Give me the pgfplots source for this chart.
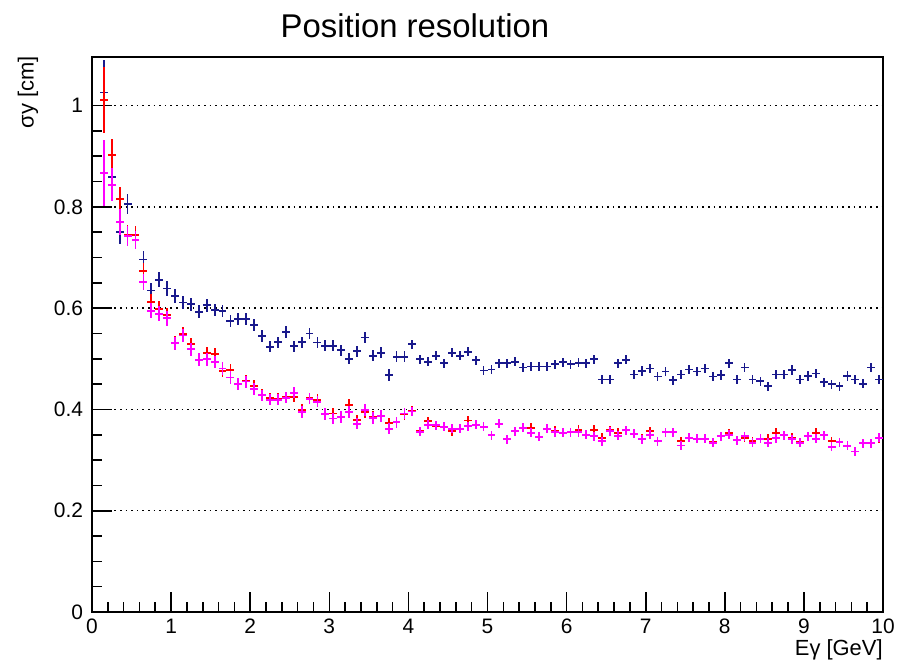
\documentclass[border=0pt]{standalone}
\usepackage{fontspec}
\setmainfont{Liberation Sans}
\usepackage{pgfplots}
\usepackage{pgfplotstable}
\pgfplotsset{compat=1.18}

\definecolor{rootnavy}{RGB}{25,25,140}
\definecolor{rootred}{RGB}{255,0,0}
\definecolor{rootmag}{RGB}{255,0,255}

% x = bin centre, b/r/m = the three resolutions, e = stat. error
\pgfplotstableread{
x    b     r     m     e
0.15 1.026 1.011 0.867 0.065
0.25 0.859 0.903 0.844 0.032
0.35 0.751 0.815 0.770 0.025
0.45 0.805 0.744 0.742 0.020
0.55 0.745 0.744 0.734 0.018
0.65 0.696 0.674 0.651 0.016
0.75 0.635 0.612 0.595 0.015
0.85 0.656 0.599 0.589 0.015
0.95 0.639 0.586 0.580 0.015
1.05 0.624 0.532 0.531 0.013
1.15 0.611 0.549 0.546 0.013
1.25 0.608 0.529 0.519 0.013
1.35 0.593 0.498 0.498 0.013
1.45 0.606 0.511 0.499 0.013
1.55 0.596 0.509 0.494 0.012
1.65 0.595 0.476 0.481 0.012
1.75 0.575 0.478 0.463 0.012
1.85 0.578 0.450 0.450 0.012
1.95 0.578 0.457 0.455 0.012
2.05 0.567 0.447 0.441 0.012
2.15 0.545 0.429 0.428 0.011
2.25 0.524 0.422 0.419 0.011
2.35 0.533 0.421 0.419 0.011
2.45 0.553 0.424 0.423 0.011
2.55 0.525 0.425 0.433 0.011
2.65 0.533 0.399 0.395 0.011
2.75 0.550 0.422 0.421 0.011
2.85 0.532 0.419 0.415 0.011
2.95 0.526 0.392 0.391 0.011
3.05 0.526 0.392 0.382 0.011
3.15 0.517 0.386 0.385 0.011
3.25 0.500 0.409 0.395 0.011
3.35 0.515 0.379 0.372 0.011
3.45 0.542 0.395 0.399 0.011
3.55 0.506 0.385 0.383 0.011
3.65 0.512 0.387 0.387 0.011
3.75 0.468 0.373 0.362 0.011
3.85 0.504 0.375 0.375 0.011
3.95 0.504 0.391 0.392 0.011
4.05 0.529 0.397 0.396 0.009
4.15 0.499 0.357 0.356 0.009
4.25 0.494 0.377 0.370 0.009
4.35 0.506 0.368 0.369 0.009
4.45 0.491 0.366 0.366 0.009
4.55 0.512 0.357 0.362 0.009
4.65 0.506 0.362 0.362 0.009
4.75 0.514 0.378 0.367 0.009
4.85 0.497 0.370 0.370 0.009
4.95 0.477 0.366 0.366 0.009
5.05 0.479 0.349 0.349 0.009
5.15 0.491 0.372 0.372 0.009
5.25 0.491 0.341 0.341 0.009
5.35 0.494 0.357 0.357 0.009
5.45 0.483 0.364 0.364 0.009
5.55 0.485 0.364 0.354 0.009
5.65 0.485 0.346 0.346 0.009
5.75 0.485 0.362 0.362 0.009
5.85 0.489 0.358 0.355 0.009
5.95 0.493 0.354 0.354 0.009
6.05 0.489 0.355 0.355 0.009
6.15 0.492 0.360 0.355 0.009
6.25 0.491 0.350 0.350 0.009
6.35 0.499 0.360 0.347 0.009
6.45 0.459 0.344 0.337 0.009
6.55 0.459 0.359 0.357 0.009
6.65 0.491 0.354 0.348 0.009
6.75 0.498 0.359 0.359 0.009
6.85 0.469 0.352 0.352 0.009
6.95 0.476 0.342 0.341 0.009
7.05 0.481 0.357 0.350 0.009
7.15 0.465 0.337 0.337 0.009
7.25 0.475 0.355 0.355 0.009
7.35 0.458 0.355 0.355 0.009
7.45 0.469 0.337 0.329 0.009
7.55 0.479 0.344 0.344 0.009
7.65 0.475 0.342 0.342 0.009
7.75 0.481 0.342 0.342 0.009
7.85 0.465 0.335 0.334 0.009
7.95 0.468 0.347 0.347 0.009
8.05 0.491 0.353 0.350 0.009
8.15 0.459 0.339 0.339 0.009
8.25 0.483 0.344 0.347 0.009
8.35 0.459 0.337 0.334 0.009
8.45 0.456 0.342 0.342 0.009
8.55 0.446 0.342 0.334 0.009
8.65 0.469 0.354 0.343 0.009
8.75 0.469 0.349 0.349 0.009
8.85 0.478 0.344 0.341 0.009
8.95 0.459 0.335 0.334 0.009
9.05 0.466 0.347 0.347 0.009
9.15 0.471 0.354 0.342 0.009
9.25 0.454 0.349 0.349 0.009
9.35 0.450 0.337 0.326 0.009
9.45 0.446 0.335 0.335 0.009
9.55 0.466 0.329 0.328 0.009
9.65 0.459 0.317 0.317 0.009
9.75 0.451 0.333 0.333 0.009
9.85 0.483 0.333 0.333 0.009
9.95 0.459 0.343 0.344 0.009
}\resdata

\pgfplotsset{
    rootpts/.style={draw=none, mark=none,
        error bars/.cd, x dir=both, x fixed=0.05, y dir=both, y explicit,
        error mark=none,
        error bar style={draw=#1, solid, line width=0.9pt}},
}

\begin{document}
\begin{tikzpicture}
\useasboundingbox (-46bp,-24.5bp) rectangle (402.5bp,306bp);
\begin{axis}[
    scale only axis,
    width=395.5bp, height=277.5bp,
    at={(0,0)}, anchor=south west,
    xmin=0, xmax=10,
    ymin=0, ymax=1.096,
    xtick={0,1,2,3,4,5,6,7,8,9,10},
    ytick={0,0.2,0.4,0.6,0.8,1},
    minor x tick num=4,
    minor y tick num=3,
    tick align=inside,
    xtick pos=bottom, ytick pos=left,
    major tick length=10bp,
    minor tick length=5bp,
    tick style={black, line width=0.8pt},
    axis line style={line width=0.9pt},
    ymajorgrids=true,
    grid style={black, line width=0.7pt, dash pattern=on 0.8bp off 2bp},
    tick label style={font=\fontsize{10.5}{12}\selectfont},
    /pgf/number format/assume math mode=true,
    yticklabel style={xshift=-1bp},
]
\addplot[rootpts=rootnavy] table[x=x, y=b, y error=e] {\resdata};
\addplot[rootpts=rootred]  table[x=x, y=r, y error=e] {\resdata};
\addplot[rootpts=rootmag]  table[x=x, y=m, y error=e] {\resdata};
\end{axis}
\node[anchor=base, font=\fontsize{16.5}{19}\selectfont] at (161.5bp,287bp) {Position resolution};
\node[rotate=90, anchor=east, inner sep=0pt, font=\fontsize{11}{13}\selectfont] at (-32bp,278bp) {σy [cm]};
\node[anchor=base east, inner sep=0pt, font=\fontsize{11}{13}\selectfont] at (395.5bp,-21.5bp) {Eγ [GeV]};
\end{tikzpicture}
\end{document}
